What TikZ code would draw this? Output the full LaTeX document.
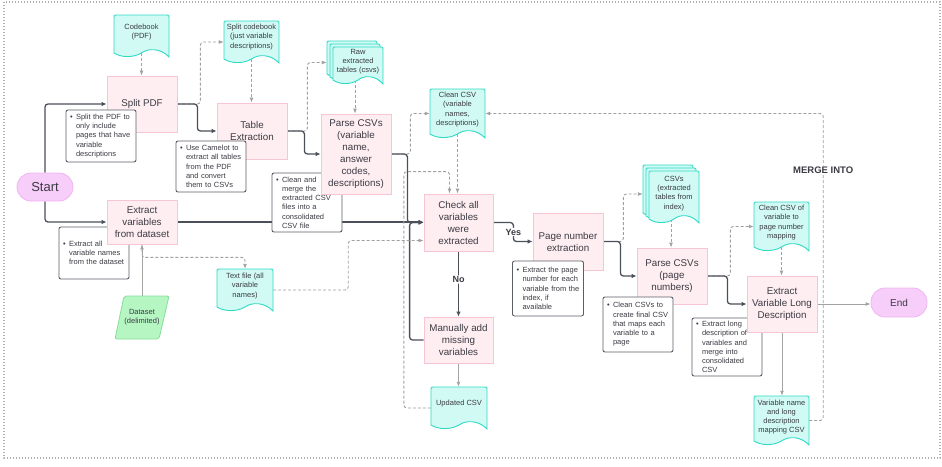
\documentclass[tikz,border=0pt]{standalone}
\usepackage{fontspec}
\setmainfont{Liberation Sans}
\usetikzlibrary{arrows.meta,calc,fit}
\pgfdeclarelayer{bg}
\pgfsetlayers{bg,main}

\definecolor{procfill}{HTML}{FFEEF1}
\definecolor{procdraw}{HTML}{F8C6D2}
\definecolor{docfill}{HTML}{D0FAF3}
\definecolor{docdraw}{HTML}{2FD9C4}
\definecolor{termfill}{HTML}{F7CDF9}
\definecolor{termdraw}{HTML}{F0B5F3}
\definecolor{datafill}{HTML}{B5F6C3}
\definecolor{datadraw}{HTML}{86DE99}
\definecolor{darkline}{HTML}{4A4F59}
\definecolor{lightline}{HTML}{A3A3A3}
\definecolor{dashline}{HTML}{A0A0A0}
\definecolor{txt}{HTML}{3B3B44}
\definecolor{notedraw}{HTML}{5A5E68}
\definecolor{framec}{HTML}{B0B0B0}

\tikzset{
 proc/.style={draw=procdraw, fill=procfill, line width=0.8pt, minimum width=70pt, text=txt, font=\fontsize{9.8}{12}\selectfont, align=center, inner sep=0pt},
 note/.style={draw=notedraw, fill=white, line width=0.9pt, rounded corners=2pt, text=txt, font=\fontsize{7.5}{9.25}\selectfont, align=left, inner xsep=4pt, inner ysep=0pt, text width=62pt, minimum width=70pt},
 docshape/.style={draw=docdraw, fill=docfill, line width=0.9pt},
 docbox/.style={inner sep=0pt, draw=none},
 doctext/.style={text=txt, font=\fontsize{7.5}{9.25}\selectfont, align=center, inner sep=0pt},
 term/.style={draw=termdraw, fill=termfill, line width=0.8pt, minimum width=56pt, rounded corners=14pt, text=txt, inner sep=0pt},
 flow/.style={draw=darkline, line width=1.3pt, rounded corners=3pt, -{Latex[length=5pt,width=4.5pt]}},
 lflow/.style={draw=lightline, line width=0.9pt, -{Latex[length=5pt,width=4pt]}},
 dflow/.style={draw=dashline, line width=0.9pt, dash pattern=on 3pt off 2pt, rounded corners=3pt, -{Latex[length=5pt,width=4pt]}},
 lbl/.style={fill=white, text=txt, font=\bfseries\fontsize{9}{10}\selectfont, inner sep=1pt},
}

\newcommand\bl{\textbullet\hspace{3.4pt}}
\newcommand\ind{\hspace*{6pt}}
\newcommand\wavedoc[4]{%
 \path[docshape] ({#1},{#4-4}) -- ({#1},{#2+2.5}) .. controls ({#1},{#2}) .. ({#1+2.5},{#2}) -- ({#3-2.5},{#2}) .. controls ({#3},{#2}) .. ({#3},{#2+2.5}) -- ({#3},{#4}) .. controls ({#3-0.15*(#3-#1)},{#4-9}) and ({#1+0.62*(#3-#1)},{#4-9}) .. ({(#1+#3)/2},{#4-4}) .. controls ({#1+0.35*(#3-#1)},{#4+1}) and ({#1+0.12*(#3-#1)},{#4+0.5}) .. ({#1},{#4-4}) -- cycle;}

\begin{document}
\begin{tikzpicture}[x=1pt,y=-1pt]
\useasboundingbox (0,0) rectangle (942,466);
\draw[framec, line width=1.2pt, dash pattern=on 1.4pt off 1.6pt] (4,2) rectangle (940,458);

% documents
\wavedoc{114}{15}{169}{57}
\node[docbox, fit={(114,15)(169,57)}] (codebook) {};
\node[doctext] (codebook-t) at (141.5,32) {Codebook\\(PDF)};

\wavedoc{224}{21}{279}{63}
\node[docbox, fit={(224,21)(279,63)}] (splitcb) {};
\node[doctext] (splitcb-t) at (251.5,37) {Split codebook\\(just variable\\descriptions)};

\wavedoc{327}{41}{377}{78}
\wavedoc{330}{44}{380}{81}
\wavedoc{333}{47}{383}{84}
\node[docbox, fit={(327,41)(383,84)}] (raw) {};
\node[doctext] (raw-t) at (358,61.5) {Raw\\extracted\\tables (csvs)};

\wavedoc{430}{89}{485}{138}
\node[docbox, fit={(430,89)(485,138)}] (cleancsv) {};
\node[doctext] (cleancsv-t) at (457.5,109.5) {Clean CSV\\(variable\\names,\\descriptions)};

\wavedoc{217}{269}{273}{311}
\node[docbox, fit={(217,269)(273,311)}] (textfile) {};
\node[doctext] (textfile-t) at (245,286) {Text file (all\\variable\\names)};

\wavedoc{431}{387}{487}{429}
\node[docbox, fit={(431,387)(487,429)}] (updated) {};
\node[doctext] (updated-t) at (459,404) {Updated CSV};

\wavedoc{643}{165}{693}{217}
\wavedoc{646}{168}{696}{220}
\wavedoc{649}{171}{699}{223}
\node[docbox, fit={(643,165)(699,223)}] (csvsidx) {};
\node[doctext] (csvsidx-t) at (674,193.5) {CSVs\\(extracted\\tables from\\index)};

\wavedoc{754}{202}{809}{251}
\node[docbox, fit={(754,202)(809,251)}] (cleanmap) {};
\node[doctext] (cleanmap-t) at (781.5,222.5) {Clean CSV of\\variable to\\page number\\mapping};

\wavedoc{754}{396}{809}{445}
\node[docbox, fit={(754,396)(809,445)}] (varmap) {};
\node[doctext] (varmap-t) at (781.5,417) {Variable name\\and long\\description\\mapping CSV};

% dataset
\filldraw[draw=datadraw, fill=datafill, line width=0.8pt, rounded corners=2pt] (124,296) -- (169,296) -- (159,339) -- (115,339) -- cycle;
\node[docbox, doctext, minimum width=54pt, minimum height=43pt] (dataset) at (142,317.5) {Dataset\\(delimited)};

% notes behind boxes
\node[note, minimum height=59pt] (nclean) at (307,202.5) {\bl Clean and\\\ind merge the\\\ind extracted CSV\\\ind files into a\\\ind consolidated\\\ind CSV file};
\node[note, minimum height=58pt] (nlong) at (727,347) {\bl Extract long\\\ind description of\\\ind variables and\\\ind merge into\\\ind consolidated\\\ind CSV};
\node[note, minimum height=52pt] (nextract) at (94,253) {\bl Extract all\\\ind variable names\\\ind from the dataset};

% process boxes
\node[proc, minimum height=56pt] (splitpdf) at (142,104) {Split PDF};
\node[proc, minimum height=56pt] (tablex) at (252,131) {Table\\Extraction};
\node[proc, minimum height=80pt] (parse1) at (356,154) {Parse CSVs\\(variable\\name,\\answer\\codes,\\descriptions)};
\node[proc, minimum height=44pt] (extractvar) at (142,222) {Extract\\variables\\from dataset};
\node[proc, minimum width=69pt, minimum height=57pt] (check) at (458.5,222.5) {Check all\\variables\\were\\extracted};
\node[proc, minimum height=57pt] (page) at (568,241.5) {Page number\\extraction};
\node[proc, minimum width=69pt, minimum height=46pt] (manual) at (458.5,340) {Manually add\\missing\\variables};
\node[proc, minimum height=56pt] (parse2) at (672,276) {Parse CSVs\\(page\\numbers)};
\node[proc, minimum height=56pt] (longdesc) at (782,304) {Extract\\Variable Long\\Description};

% terminals
\node[term, minimum height=28pt, font=\fontsize{13}{15}\selectfont] (start) at (45,187) {Start};
\node[term, minimum height=29pt, font=\fontsize{10}{12}\selectfont] (end) at (899,302.5) {End};

% notes on top
\node[note, minimum height=52pt] (nsplit) at (101,136) {\bl Split the PDF to\\\ind only include\\\ind pages that have\\\ind variable\\\ind descriptions};
\node[note, minimum height=51pt] (ncamelot) at (211,166.5) {\bl Use Camelot to\\\ind extract all tables\\\ind from the PDF\\\ind and convert\\\ind them to CSVs};
\node[note, minimum height=55pt, text width=63pt, minimum width=71pt] (npage) at (548,288.5) {\bl Extract the page\\\ind number for each\\\ind variable from the\\\ind index, if\\\ind available};
\node[note, minimum height=55pt] (ncleancsvs) at (638,324.5) {\bl Clean CSVs to\\\ind create final CSV\\\ind that maps each\\\ind variable to a\\\ind page};

% connectors
\begin{pgfonlayer}{bg}
\draw[flow] (start.north) |- (splitpdf.west);
\draw[flow] (start.south) |- (extractvar.west);
\draw[dflow] ($(codebook.south)+(0,-4)$) -- (codebook.south |- splitpdf.north);
\draw[dflow] (splitpdf.east) -- ++(23,0) |- (splitcb.west);
\draw[flow] (splitpdf.east) -- ++(20,0) |- (tablex.west);
\draw[dflow] ($(splitcb.south)+(0,-4)$) -- (splitcb.south |- tablex.north);
\draw[dflow] (tablex.east) -- ++(20,0) |- (raw.west);
\draw[flow] (tablex.east) -- ++(17,0) |- (parse1.west);
\draw[dflow] ($(raw.south)+(0,-4)$) -- (raw.south |- parse1.north);
\draw[dflow] (parse1.east) -- ++(19,0) |- (cleancsv.west);
\draw[flow] (parse1.east) -- ++(16,0) |- (check.west);
\draw[flow] (extractvar.east) -- (extractvar.east -| check.west);
\draw[flow] (manual.west) -- ++(-14,0) |- (check.west);
\draw[dflow] ($(cleancsv.south)+(0,-4)$) -- (cleancsv.south |- check.north);
\draw[dflow] (updated.west) -- ++(-27,0) |- ($(check.north)+(-9,-22)$) -- ($(check.north)+(-9,0)$);
\draw[dflow] (textfile.east) -- ++(75,0) |- ($(check.west)+(0,18)$);
\draw[dflow] (extractvar.south) -- ++(0,13) -| (textfile.north);
\draw[lflow] (dataset.north) -- (extractvar.south);
\draw[flow] (check.east) -- ++(20,0) |- node[lbl, pos=0.25] (yes) {Yes} (page.west);
\draw[flow] (check.south) -- node[lbl, pos=0.43] (no) {No} (manual.north);
\draw[lflow] (manual.south) -- (manual.south |- updated.north);
\draw[dflow] (page.east) -- ++(20,0) |- (csvsidx.west);
\draw[flow] (page.east) -- ++(17,0) |- (parse2.west);
\draw[dflow] ($(csvsidx.south)+(0,-4)$) -- (csvsidx.south |- parse2.north);
\draw[dflow] (parse2.east) -- ++(23,0) |- (cleanmap.west);
\draw[flow] (parse2.east) -- ++(20,0) |- (longdesc.west);
\draw[dflow] ($(cleanmap.south)+(0,-4)$) -- (cleanmap.south |- longdesc.north);
\draw[lflow] (longdesc.east) -- (longdesc.east -| end.west);
\draw[lflow] (longdesc.south) -- (longdesc.south |- varmap.north);
\draw[dflow] (varmap.east) -- ++(14,0) |- node[lbl, pos=0.408, font=\bfseries\fontsize{9.5}{11}\selectfont] (merge) {MERGE INTO} (cleancsv.east);
\end{pgfonlayer}
\end{tikzpicture}
\end{document}
